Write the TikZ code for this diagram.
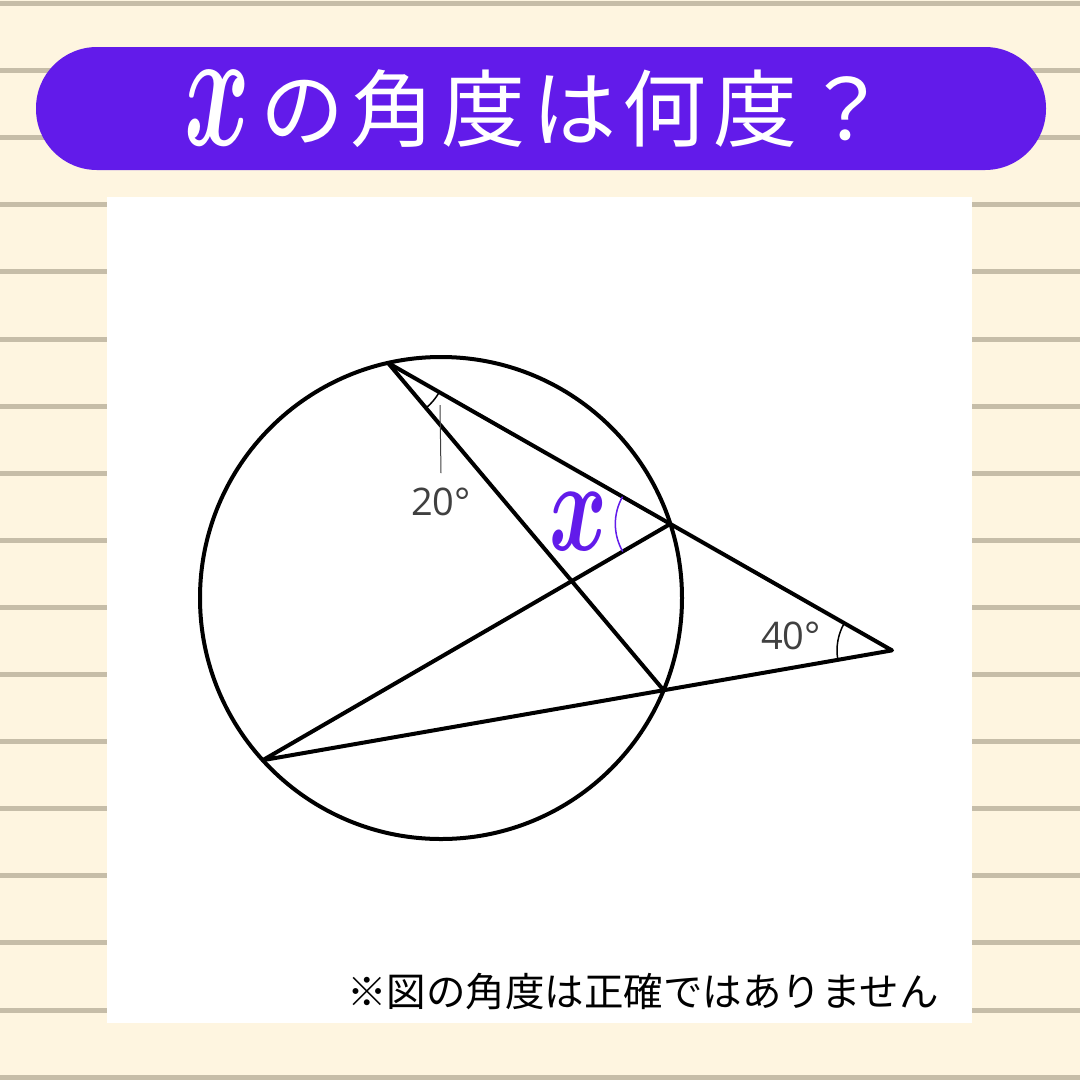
\documentclass[tikz,border=0pt]{standalone}
\usepackage{fontspec}
\newfontfamily\jpfont{Noto Sans CJK JP}
\newfontfamily\degfont{Open Sans}
\usetikzlibrary{calc,angles}

\definecolor{paper}{HTML}{FEF5E0}
\definecolor{ruling}{HTML}{C6BDA8}
\definecolor{banner}{HTML}{621BEA}

% tall script x used in title and figure
\newcommand{\tallx}[2]{{\fontsize{10}{10}\selectfont\boldmath\scalebox{#1}[#2]{$x$}}}

\tikzset{
	figline/.style = {line width = 4pt, line join = round},
	anglearc/.style = {draw, line width = 1.5pt},
	anglelabel/.style = {font = \degfont\fontsize{38}{38}\selectfont, text = black!75, inner sep = 0pt}
}

\begin{document}
\begin{tikzpicture}[x = 1pt, y = -1pt]

	% paper with ruled lines
	\useasboundingbox (0, 0) rectangle (1080, 1080);
	\fill[paper] (0, 0) rectangle (1080, 1080);
	\foreach \k in {0, ..., 16}
		\fill[ruling] (0, 1 + 67.1 * \k) rectangle (1080, 6 + 67.1 * \k);

	% title banner
	\fill[banner, rounded corners = 61pt] (36, 47) rectangle (1046, 170);
	\node[text = white, inner sep = 0pt, anchor = base west, font = \jpfont\fontsize{84}{84}\selectfont\addfontfeatures{LetterSpace = 8}] (title) at (184, 140)
		{\raisebox{-5pt}{\tallx{10}{16.8}}\hspace{10pt}の角度は何度？};

	% white panel
	\fill[white] (107, 197) rectangle (972, 1023);

	% circle and points on it
	\def\circleRadius{241pt}
	\coordinate (O) at (441, 598);
	\draw[line width = 4pt] (O) circle (\circleRadius);

	\coordinate (A) at ($(O) + (102.7:\circleRadius)$);
	\coordinate (B) at ($(O) + (17.9:\circleRadius)$);
	\coordinate (C) at ($(O) + (-22.5:\circleRadius)$);
	\coordinate (D) at ($(O) + (222.3:\circleRadius)$);
	\coordinate (P) at (intersection of A--B and D--C);

	% secants and chords
	\draw[figline] (A) -- (P) -- (D) -- (B);
	\draw[figline] (A) -- (C);

	% angle marks
	\pic[anglearc, angle radius = 59pt] {angle = C--A--B};
	\pic[anglearc, angle radius = 55pt] {angle = B--P--D};
	\pic[anglearc, draw = banner, angle radius = 55pt] {angle = A--B--D};

	% labels
	\node[anglelabel] (ang20) at (441, 502) {20°};
	\coordinate (tick20) at (440, 405);
	\draw[line width = 1pt, black!75] (tick20) -- (ang20.north |- 0, 473);
	\node[anglelabel] (ang40) at (791, 636) {40°};
	\node[text = banner, inner sep = 0pt] (angx) at (578, 522) {\tallx{8.8}{13}};

	% note
	\node[font = \jpfont\fontsize{39.5}{40}\selectfont, inner sep = 0pt] (note) at (643, 992)
		{※図の角度は正確ではありません};

\end{tikzpicture}
\end{document}
